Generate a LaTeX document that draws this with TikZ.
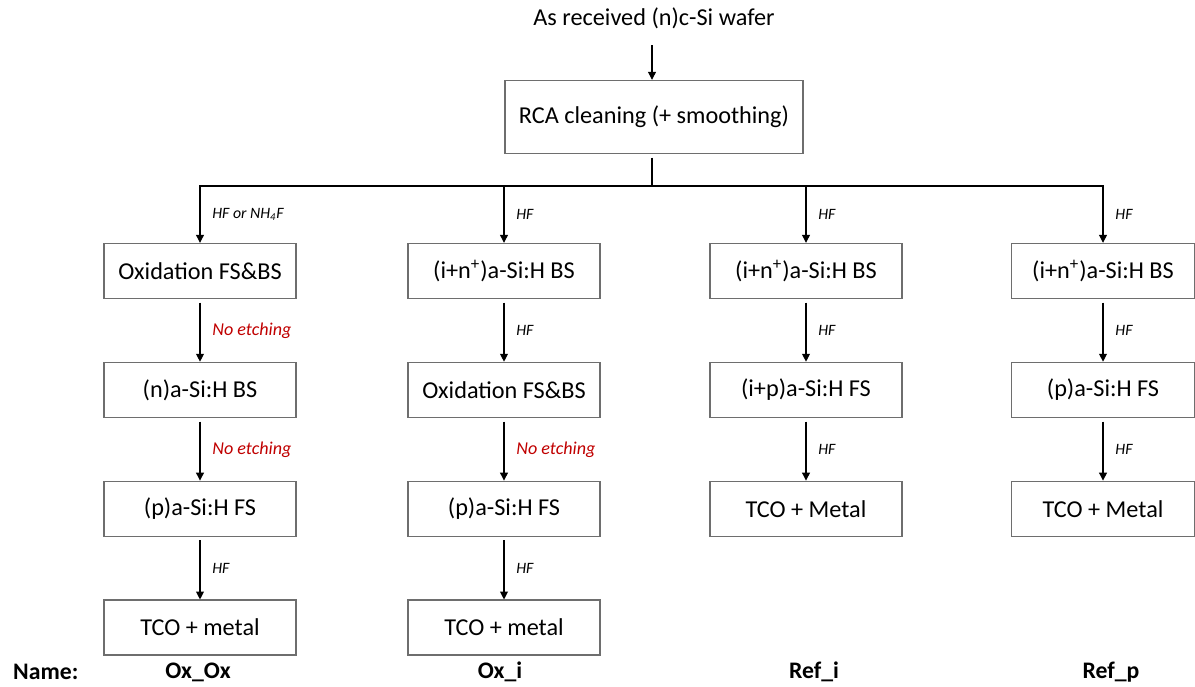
\documentclass[tikz,border=0pt]{standalone}
\usepackage{fontspec}
\setmainfont{Carlito}
\usepackage{tikz}
\usetikzlibrary{arrows.meta, positioning}
\definecolor{boxgray}{HTML}{6E6E6E}
\definecolor{etchred}{HTML}{C00000}

\begin{document}
\begin{tikzpicture}[
    x=0.02cm, y=-0.02cm,
    node distance=1.25cm,
    font=\fontsize{13.8}{16}\selectfont,
    stepbox/.style={rectangle, draw=boxgray, line width=0.8pt, minimum width=3.84cm, minimum height=1.1cm, align=center},
    narrowbox/.style={stepbox, minimum width=3.66cm},
    arrow/.style={-{Triangle[length=4.5pt, width=4.5pt]}, line width=0.6pt, shorten <=2pt},
    etch/.style={right, xshift=0.12cm, font=\fontsize{9}{11}\selectfont\itshape},
    noetch/.style={etch, text=etchred, font=\fontsize{10.3}{12}\selectfont\itshape},
    samplename/.style={font=\fontsize{13.5}{16}\selectfont\bfseries}
]
\useasboundingbox (0,0) rectangle (1195,686);

% Nodes
\node (wafer) at (654,18) {As received (n)c-Si wafer};
\node[stepbox, minimum width=5.96cm, minimum height=1.46cm] (rca) at (654,117) {RCA cleaning (+ smoothing)};
\coordinate (split) at (652,186);

% Ox_Ox column
\node[stepbox] (oxA) at (200,271) {Oxidation FS\&BS};
\node[stepbox, below=of oxA] (nbsA) {(n)a-Si:H BS};
\node[stepbox, below=of nbsA] (pfsA) {(p)a-Si:H FS};
\node[stepbox, below=of pfsA] (tcoA) {TCO + metal};

% Ox_i column
\node[stepbox] (inB) at (504,271) {(i+n\textsuperscript{+})a-Si:H BS};
\node[stepbox, below=of inB] (oxB) {Oxidation FS\&BS};
\node[stepbox, below=of oxB] (pfsB) {(p)a-Si:H FS};
\node[stepbox, below=of pfsB] (tcoB) {TCO + metal};

% Ref_i column
\node[stepbox] (inC) at (806,271) {(i+n\textsuperscript{+})a-Si:H BS};
\node[stepbox, below=of inC] (ipC) {(i+p)a-Si:H FS};
\node[stepbox, below=of ipC] (tcoC) {TCO + Metal};

% Ref_p column
\node[narrowbox] (inD) at (1103,271) {(i+n\textsuperscript{+})a-Si:H BS};
\node[narrowbox, below=of inD] (pfsD) {(p)a-Si:H FS};
\node[narrowbox, below=of pfsD] (tcoD) {TCO + Metal};

% Names
\node[samplename, anchor=west] (namelbl) at (7,672) {Name:};
\node[samplename] (nameA) at (198,672) {Ox\_Ox};
\node[samplename] (nameB) at (500,672) {Ox\_i};
\node[samplename] (nameC) at (814,672) {Ref\_i};
\node[samplename] (nameD) at (1111,672) {Ref\_p};

% Arrows
\draw[arrow, shorten <=6pt] (wafer.south -| split) -- (rca.north -| split);
\draw[line width=0.6pt, shorten <=2pt] (rca.south -| split) -- (split);
\draw[arrow, shorten <=0pt] (split) -| node[etch, pos=0.75] {HF or NH\textsubscript{4}F} (oxA);
\draw[arrow, shorten <=0pt] (split) -| node[etch, pos=0.75] {HF} (inB);
\draw[arrow, shorten <=0pt] (split) -| node[etch, pos=0.75] {HF} (inC);
\draw[arrow, shorten <=0pt] (split) -| node[etch, pos=0.75] {HF} (inD);

\draw[arrow] (oxA) -- node[noetch] {No etching} (nbsA);
\draw[arrow] (nbsA) -- node[noetch] {No etching} (pfsA);
\draw[arrow] (pfsA) -- node[etch] {HF} (tcoA);

\draw[arrow] (inB) -- node[etch] {HF} (oxB);
\draw[arrow] (oxB) -- node[noetch] {No etching} (pfsB);
\draw[arrow] (pfsB) -- node[etch] {HF} (tcoB);

\draw[arrow] (inC) -- node[etch] {HF} (ipC);
\draw[arrow] (ipC) -- node[etch] {HF} (tcoC);

\draw[arrow] (inD) -- node[etch] {HF} (pfsD);
\draw[arrow] (pfsD) -- node[etch] {HF} (tcoD);

\end{tikzpicture}
\end{document}
